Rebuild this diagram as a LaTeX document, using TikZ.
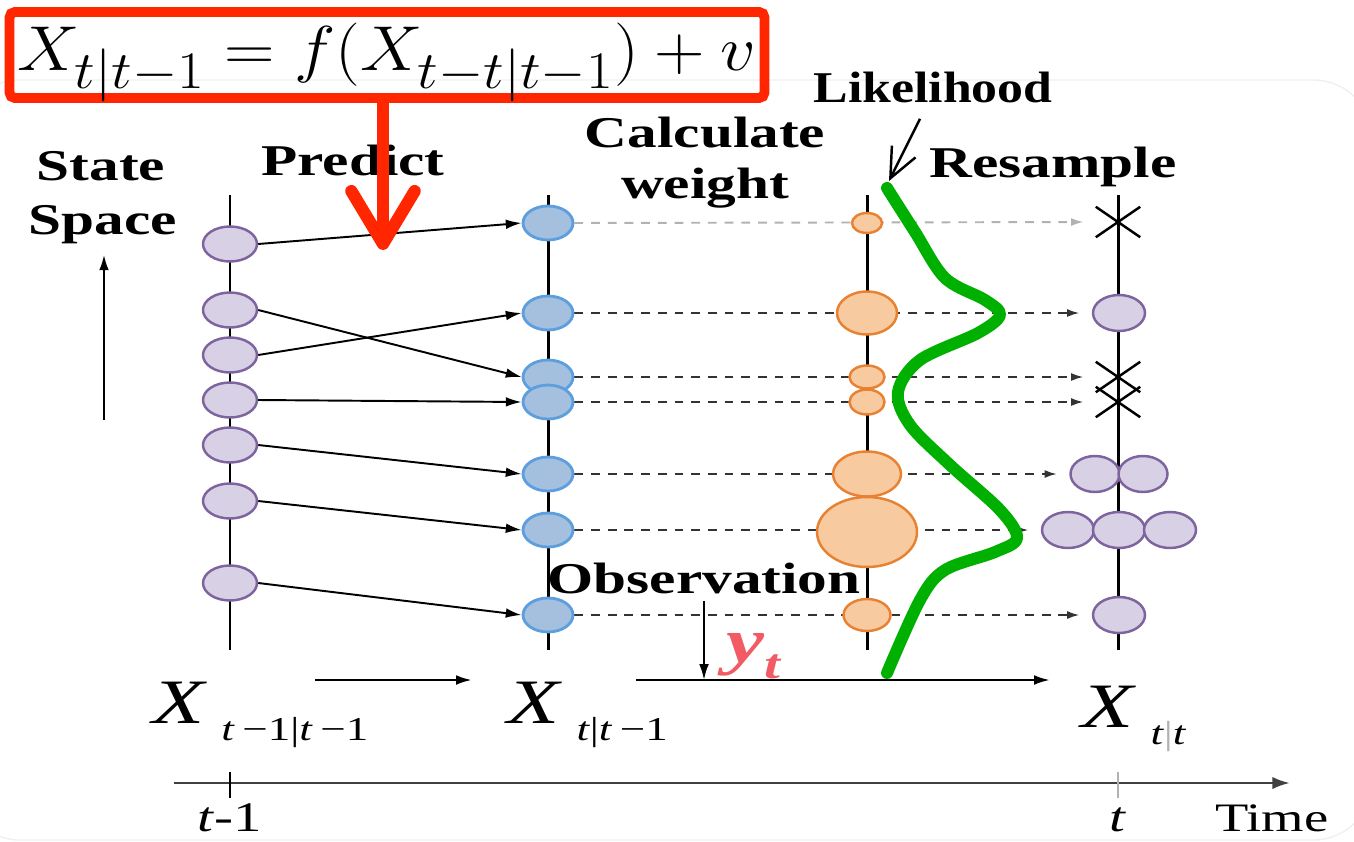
\documentclass[tikz,border=0pt]{standalone}
\usepackage[no-math]{fontspec}
\setmainfont{Liberation Serif}
\usepackage{graphicx}
\usetikzlibrary{positioning, shapes.geometric, shapes.misc, arrows.meta, backgrounds}

\definecolor{lavfill}{RGB}{216,208,228}
\definecolor{lavline}{RGB}{125,100,158}
\definecolor{bluefill}{RGB}{164,192,222}
\definecolor{blueline}{RGB}{92,158,222}
\definecolor{orgfill}{RGB}{248,202,160}
\definecolor{orgline}{RGB}{232,130,50}
\definecolor{boxred}{RGB}{255,38,0}
\definecolor{likegreen}{RGB}{0,176,0}
\definecolor{obsred}{RGB}{242,90,100}

\newcommand{\widetxt}[1]{\scalebox{1.35}[1]{#1}}
\newcommand{\sublbl}[1]{\raisebox{-10pt}{\fontsize{19}{20}\selectfont #1}}

\tikzset{
  formula/.style={draw=boxred, line width=5.6pt, rounded corners=3pt, inner sep=0pt,
    minimum width=15.1cm, minimum height=1.72cm, text height=30pt, text depth=12pt,
    font=\Huge},
  prior/.style={ellipse, draw=lavline, fill=lavfill, line width=1.4pt, inner sep=0pt,
    minimum width=1.08cm, minimum height=0.7cm},
  pred/.style={ellipse, draw=blueline, fill=bluefill, line width=1.6pt, inner sep=0pt,
    minimum width=1.0cm, minimum height=0.68cm},
  wgt/.style={ellipse, draw=orgline, fill=orgfill, line width=1.4pt, inner sep=0pt},
  post/.style={ellipse, draw=lavline, fill=lavfill, line width=1.4pt, inner sep=0pt,
    minimum width=1.04cm, minimum height=0.72cm},
  killed/.style={cross out, draw, line width=1.4pt, inner sep=0pt,
    minimum width=0.84cm, minimum height=0.56cm},
  headlbl/.style={font=\fontsize{25}{28}\selectfont\bfseries, inner sep=0pt, anchor=base},
  statelbl/.style={font=\fontsize{36}{40}\selectfont, inner sep=0pt, anchor=base west},
  colline/.style={line width=1.7pt},
  move/.style={->, line width=1.1pt},
  resmp/.style={-{Latex[length=7pt,width=4.5pt]}, line width=1.1pt, black!80,
    dash pattern=on 5pt off 4.5pt, shorten >=7pt},
}

\begin{document}
\begin{tikzpicture}[x=0.02cm, y=-0.02cm, >={Latex[length=9pt,width=5.5pt]}]
  \useasboundingbox (0,0) rectangle (1354,841);

  % column axes
  \foreach \xx in {230,548,867,1118}
    \draw[colline] (\xx,195) -- (\xx,650);

  % particles at t-1
  \foreach \name/\yy in {p1/244, p2/310, p3/355, p4/400, p5/445, p6/501, p7/583}
    \node[prior] (\name) at (230,\yy) {};
  % predicted particles
  \foreach \name/\yy in {b1/223, b2/313, b3/377, b4/402, b5/474, b6/530, b7/615}
    \node[pred] (\name) at (548,\yy) {};
  % weights
  \foreach \name/\yy/\ww/\hh in {w1/223/0.6/0.4, w2/313/1.2/0.86, w3/377/0.7/0.46,
      w4/402/0.7/0.5, w5/474/1.36/0.9, w6/532/2.0/1.4, w7/615/0.94/0.64}
    \node[wgt, minimum width=\ww cm, minimum height=\hh cm] (\name) at (867,\yy) {};
  % resampled particles
  \node[killed] (k1) at (1118,222) {};
  \node[post] (r2) at (1119,313) {};
  \node[killed] (k3) at (1118,377) {};
  \node[killed] (k4) at (1118,402) {};
  \node[post, minimum width=0.98cm] (r5a) at (1095,474) {};
  \node[post, minimum width=0.98cm] (r5b) at (1143,474) {};
  \node[post] (r6a) at (1068,530) {};
  \node[post] (r6b) at (1119,530) {};
  \node[post] (r6c) at (1170,530) {};
  \node[post] (r7) at (1119,615) {};

  % prediction moves
  \foreach \a/\b in {p1/b1, p2/b3, p3/b2, p4/b4, p5/b5, p6/b6, p7/b7}
    \draw[move] (\a.east) -- (\b.west);

  \begin{scope}[on background layer]
    \clip (0,0) rectangle (1354,841);
    \fill[white] (0,0) rectangle (1354,841);
    \draw[gray!12, line width=0.8pt, rounded corners=1.2cm] (-40,80) rectangle (1373,840);
    \draw[resmp, black!30] (b1.east) -- (k1.west);
    \foreach \a/\b in {b2/r2, b3/k3, b4/k4, b5/r5a, b6/r6a, b7/r7}
      \draw[resmp] (\a.east) -- (\b.west);
  \end{scope}

  % headings
  \node[headlbl] (statelbl) at (101,180) {\widetxt{State}};
  \node[headlbl] (spacelbl) at (103,235) {\widetxt{Space}};
  \node[headlbl] (predictlbl) at (353,175) {\widetxt{Predict}};
  \node[headlbl] (calclbl) at (705,148) {\widetxt{Calculate}};
  \node[headlbl] (weightlbl) at (705,198) {\widetxt{weight}};
  \node[headlbl] (resamplelbl) at (1053,177) {\widetxt{Resample}};
  \node[headlbl] (likelbl) at (933,103) {\scalebox{1.18}[1]{Likelihood}};
  \node[headlbl] (obslbl) at (704,593) {\widetxt{Observation}};

  \coordinate (ssbot) at (104,420);
  \draw[->, line width=1.4pt] (ssbot) -- (ssbot |- spacelbl.south) [shorten >=5.5pt];

  % model box and its arrow
  \node[formula] (model) at (387,55) {\scalebox{1.6}[1.45]{$X_{t|t-1} = f(X_{t-t|t-1}) + v$}};
  \coordinate (predtip) at (383,250);
  \draw[boxred, line width=7pt, line cap=round,
    -{Straight Barb[length=30pt,width=36pt,round]}] (model.south -| predtip) -- (predtip);

  % likelihood curve
  \draw[likegreen, line width=6.8pt, line cap=round, line join=round]
    plot[smooth, tension=0.55] coordinates {(887,188) (915,232) (945,278) (985,300)
      (1000,315) (978,333) (920,360) (898,392) (910,425) (950,465) (1000,510)
      (1017,538) (995,552) (945,570) (920,600) (887,673)};
  \coordinate (liketop) at (889,181);
  \draw[line width=1.4pt, -{Straight Barb[length=17pt,width=15pt]}]
    ([xshift=-0.26cm,yshift=-0.3cm]likelbl.south) -- (liketop);

  % observation
  \coordinate (ostart) at (636,680);
  \coordinate (oend) at (1050,680);
  \draw[->, line width=1.4pt] (ostart) -- (oend);
  \draw[->, line width=1.2pt] ([yshift=-4pt]obslbl.south) -- (obslbl.south |- ostart);
  \node[obsred, font=\fontsize{36}{40}\selectfont\bfseries\itshape, inner sep=0pt,
    anchor=base west] (yobs) at (726,662)
    {\widetxt{y\raisebox{-9.5pt}{\fontsize{24}{24}\selectfont t}}};

  % state labels
  \node[statelbl] (xprior) at (152,723)
    {\widetxt{\textit{X}\,\sublbl{\textit{t}\,−1|\textit{t}\,−1}}};
  \node[statelbl] (xpred) at (507,723)
    {\widetxt{\textit{X}\,\sublbl{\textit{t}|\textit{t}\,−1}}};
  \node[statelbl] (xpost) at (1081,727)
    {\widetxt{\textit{X}\,\sublbl{\textit{t}{\color{gray!60}|}\textit{t}}}};
  \coordinate (pa) at (315,680);
  \coordinate (pb) at (472,680);
  \draw[->, line width=1.4pt] (pa) -- (pb);

  % time axis
  \coordinate (tstart) at (174,783);
  \coordinate (tend) at (1290,783);
  \draw[black!75, line width=1.6pt, -{Latex[length=10pt,width=7pt]}] (tstart) -- (tend);
  \draw[line width=1.4pt] (230,772) -- (230,798);
  \draw[gray!60, line width=1.4pt] (1118,772) -- (1118,798);
  \node[font=\fontsize{24}{26}\selectfont, inner sep=0pt, anchor=base] (tprev) at (230,831)
    {\widetxt{\textit{t}-1}};
  \node[font=\fontsize{24}{26}\selectfont, inner sep=0pt, anchor=base] (tnow) at (1118,831)
    {\widetxt{\textit{t}}};
  \node[font=\fontsize{23}{26}\selectfont, inner sep=0pt, anchor=base west] (timelbl) at (1215,831)
    {\widetxt{Time}};
\end{tikzpicture}
\end{document}
